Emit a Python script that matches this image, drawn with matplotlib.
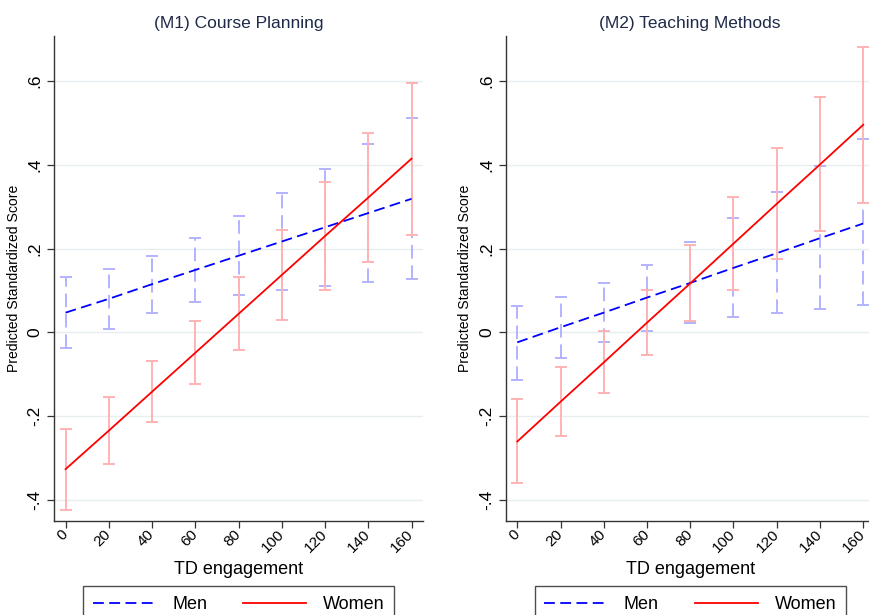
import numpy as np
import matplotlib
matplotlib.use('Agg')
import matplotlib.pyplot as plt

plt.rcParams['font.family'] = ['Liberation Sans', 'DejaVu Sans']

# TD engagement levels
td = [0, 20, 40, 60, 80, 100, 120, 140, 160]

# (M1) Course Planning
m1_men = [0.047, 0.080, 0.115, 0.149, 0.183, 0.217, 0.251, 0.285, 0.319]
m1_men_lo = [-0.038, 0.009, 0.047, 0.073, 0.089, 0.101, 0.110, 0.120, 0.127]
m1_men_hi = [0.131, 0.152, 0.183, 0.226, 0.277, 0.332, 0.391, 0.450, 0.511]
m1_women = [-0.327, -0.235, -0.142, -0.049, 0.044, 0.137, 0.230, 0.322, 0.415]
m1_women_lo = [-0.425, -0.315, -0.214, -0.123, -0.043, 0.030, 0.100, 0.168, 0.233]
m1_women_hi = [-0.231, -0.155, -0.069, 0.026, 0.131, 0.244, 0.360, 0.476, 0.595]

# (M2) Teaching Methods
m2_men = [-0.024, 0.012, 0.047, 0.083, 0.118, 0.154, 0.189, 0.225, 0.260]
m2_men_lo = [-0.113, -0.062, -0.023, 0.004, 0.023, 0.037, 0.047, 0.056, 0.065]
m2_men_hi = [0.063, 0.084, 0.117, 0.161, 0.216, 0.274, 0.335, 0.398, 0.461]
m2_women = [-0.261, -0.166, -0.072, 0.023, 0.117, 0.212, 0.307, 0.401, 0.496]
m2_women_lo = [-0.359, -0.247, -0.144, -0.054, 0.027, 0.102, 0.174, 0.242, 0.309]
m2_women_hi = [-0.160, -0.083, 0.004, 0.100, 0.208, 0.323, 0.440, 0.562, 0.683]

titles = ['(M1) Course Planning', '(M2) Teaching Methods']
yticks = [-0.4, -0.2, 0, 0.2, 0.4, 0.6]
ytick_labels = ['-.4', '-.2', '0', '.2', '.4', '.6']

panels = [
    (m1_men, m1_men_lo, m1_men_hi, m1_women, m1_women_lo, m1_women_hi),
    (m2_men, m2_men_lo, m2_men_hi, m2_women, m2_women_lo, m2_women_hi),
]

fig = plt.figure(figsize=(8.69, 6.15), dpi=100)
positions = [[0.0625, 0.1528, 0.424, 0.7886], [0.5823, 0.1528, 0.424, 0.7886]]

for pos, title, (men, men_lo, men_hi, wom, wom_lo, wom_hi) in zip(positions, titles, panels):
    ax = fig.add_axes(pos)
    men = np.array(men)
    wom = np.array(wom)

    # confidence intervals
    eb = ax.errorbar(td, men, yerr=[men - np.array(men_lo), np.array(men_hi) - men],
                     fmt='none', ecolor='#b3b3ff', elinewidth=1.4, capsize=4.5,
                     capthick=1.4, zorder=2)
    eb[2][0].set_linestyle((0, (7, 3.5)))
    ax.errorbar(td, wom, yerr=[wom - np.array(wom_lo), np.array(wom_hi) - wom],
                fmt='none', ecolor='#ffb3b3', elinewidth=1.4, capsize=4.5,
                capthick=1.4, zorder=3)

    ax.plot(td, men, color='#0000ff', lw=1.3, linestyle=(0, (6, 3)), label='Men', zorder=4)
    ax.plot(td, wom, color='#ff0000', lw=1.3, label='Women', zorder=5)

    ax.set_xlim(-5.2, 165.2)
    ax.set_ylim(-0.451, 0.708)
    ax.set_xticks(td)
    ax.set_xticklabels([str(t) for t in td], rotation=45, fontsize=11,
                       ha='right', va='center', rotation_mode='anchor')
    ax.set_yticks(yticks)
    ax.set_yticklabels(ytick_labels, rotation=90, va='center', fontsize=12.5)
    ax.tick_params(axis='both', direction='out', length=5, width=0.9, color='#333333')
    ax.tick_params(axis='x', pad=3)
    ax.grid(axis='y', color='#e6eef0', lw=1.0)
    ax.set_axisbelow(True)
    for s in ['top', 'right']:
        ax.spines[s].set_visible(False)
    for s in ['left', 'bottom']:
        ax.spines[s].set_color('#333333')
        ax.spines[s].set_linewidth(1.0)

    ax.set_title(title, fontsize=12.5, color='#1f2a48', pad=6)
    ax.set_xlabel('TD engagement', fontsize=13, labelpad=4)
    ax.set_ylabel('Predicted Standardized Score', fontsize=10.1, labelpad=5)

    cx = pos[0] + pos[2] / 2
    leg = ax.legend(loc='upper center', bbox_to_anchor=(cx, 0.0472), bbox_transform=fig.transFigure,
                    ncol=2, fontsize=13, handlelength=3.5, handletextpad=0.9, columnspacing=2.0,
                    frameon=True, fancybox=False, borderpad=0.55, borderaxespad=0)
    leg.get_frame().set_edgecolor('#222222')
    leg.get_frame().set_linewidth(1.0)

fig.savefig('out.png', dpi=100)
